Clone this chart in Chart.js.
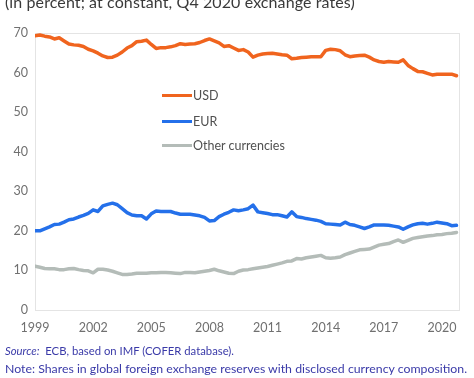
<!DOCTYPE html>
<html>
<head>
<meta charset="utf-8">
<script src="https://cdn.jsdelivr.net/npm/chart.js@4.4.1/dist/chart.umd.min.js"></script>
<style>
  html, body { margin: 0; padding: 0; background: #fff; }
  #wrap { position: relative; width: 474px; height: 378px; overflow: hidden; font-family: Lato, "Open Sans", sans-serif; }
  #c { position: absolute; left: 0; top: 0; }
  .title { position: absolute; left: 5px; top: -8px; font-size: 16px; color: #3a3a3a; white-space: nowrap; letter-spacing: 0.1px; }
  .foot { position: absolute; left: 5px; color: #3a3aa8; white-space: nowrap; }
  .leg { position: absolute; left: 162px; font-size: 12.5px; color: #505050; white-space: nowrap; }
  .leg span { display: inline-block; width: 30px; height: 3px; vertical-align: middle; margin-right: 1px; position: relative; top: -1px; }
</style>
</head>
<body>
<div id="wrap">
  <canvas id="c" width="474" height="378"></canvas>
  <div class="title">(in percent; at constant, Q4 2020 exchange rates)</div>
  <div class="leg" style="top:88px"><span style="background:#f0641e"></span>USD</div>
  <div class="leg" style="top:114px"><span style="background:#2470ea"></span>EUR</div>
  <div class="leg" style="top:138px"><span style="background:#b4bcb8"></span>Other currencies</div>
  <div class="foot" style="top:344px; font-size:11.3px"><i>Source:</i>&nbsp; ECB, based on IMF (COFER database).</div>
  <div class="foot" style="top:361px; font-size:12.3px">Note: Shares in global foreign exchange reserves with disclosed currency composition.</div>
</div>
<script>
const years = [1999,2000,2001,2002,2003,2004,2005,2006,2007,2008,2009,2010,2011,2012,2013,2014,2015,2016,2017,2018,2019,2020];
const xTickYears = [1999,2002,2005,2008,2011,2014,2017,2020];
const yTicks = [0,10,20,30,40,50,60,70];

const usd = [
  69.3,69.5,69.2,69.0, 68.5,68.8,68.0,67.2, 67.0,66.9,66.6,65.9, 65.5,64.9,64.2,63.8,
  63.9,64.4,65.2,66.2, 66.8,67.8,67.9,68.2, 67.1,66.1,66.3,66.3, 66.5,66.8,67.3,67.1,
  67.2,67.3,67.6,68.1, 68.5,68.0,67.5,66.6, 66.8,66.2,65.6,65.8, 65.2,63.9,64.4,64.7,
  64.8,64.9,64.7,64.5, 64.4,63.5,63.6,63.8, 63.9,64.0,64.0,64.0, 65.6,65.9,65.8,65.5,
  64.5,64.0,64.2,64.3, 64.4,63.9,63.2,62.8, 62.6,62.8,62.7,62.6, 63.2,61.8,61.0,60.3,
  60.2,59.8,59.4,59.6, 59.6,59.6,59.6,59.2
];
const eur = [
  20.0,20.0,20.5,21.0, 21.6,21.7,22.2,22.8, 23.0,23.5,23.9,24.4, 25.3,24.9,26.3,26.7,
  27.0,26.6,25.6,24.6, 24.0,23.8,23.8,23.0, 24.3,25.0,24.9,24.9, 24.9,24.5,24.2,24.2,
  24.2,24.0,23.8,23.4, 22.5,22.6,23.6,24.2, 24.7,25.3,25.1,25.3, 25.6,26.5,24.8,24.6,
  24.4,24.1,24.1,23.8, 23.5,24.8,23.6,23.4, 23.1,22.9,22.7,22.4, 21.8,21.7,21.6,21.5,
  22.2,21.6,21.4,21.0, 20.6,21.0,21.5,21.5, 21.5,21.4,21.2,21.0, 20.4,21.0,21.5,21.8,
  21.9,21.7,21.9,22.2, 22.0,21.8,21.3,21.4
];
const other = [
  11.1,10.8,10.5,10.4, 10.4,10.2,10.2,10.4, 10.5,10.2,10.0,9.9, 9.4,10.3,10.3,10.1,
  9.8,9.4,9.0,9.0, 9.1,9.3,9.3,9.3, 9.4,9.4,9.5,9.5, 9.4,9.3,9.2,9.5,
  9.5,9.4,9.6,9.8, 10.0,10.3,9.9,9.6, 9.3,9.2,9.8,10.1, 10.2,10.4,10.6,10.8,
  11.0,11.3,11.6,11.9, 12.3,12.4,13.0,12.9, 13.2,13.4,13.6,13.8, 13.2,13.1,13.2,13.4,
  14.0,14.4,14.8,15.2, 15.3,15.4,15.9,16.4, 16.6,16.8,17.3,17.7, 17.1,17.6,18.1,18.3,
  18.5,18.7,18.8,19.0, 19.1,19.3,19.4,19.6
];

// quarterly time points (year + quarter fraction)
const quarters = [];
years.forEach(y => { for (let q = 0; q < 4; q++) quarters.push(y + q / 4); });
const toPts = arr => arr.map((v, i) => ({ x: quarters[i], y: v }));

const frame = {
  id: 'frame',
  beforeDatasetsDraw(chart) {
    const a = chart.chartArea, ctx = chart.ctx;
    ctx.save();
    ctx.strokeStyle = '#e4e4e4';
    ctx.lineWidth = 1;
    ctx.strokeRect(Math.round(a.left) + 0.5, Math.round(a.top) + 0.5, Math.round(a.right - a.left), Math.round(a.bottom - a.top));
    ctx.restore();
  }
};

new Chart(document.getElementById('c'), {
  type: 'line',
  data: {
    datasets: [
      { label: 'USD', data: toPts(usd), borderColor: '#f0641e', borderWidth: 3.5, pointRadius: 0, tension: 0, borderJoinStyle: 'round', borderCapStyle: 'round' },
      { label: 'EUR', data: toPts(eur), borderColor: '#2470ea', borderWidth: 3.5, pointRadius: 0, tension: 0, borderJoinStyle: 'round', borderCapStyle: 'round' },
      { label: 'Other currencies', data: toPts(other), borderColor: '#b4bcb8', borderWidth: 3.5, pointRadius: 0, tension: 0, borderJoinStyle: 'round', borderCapStyle: 'round' }
    ]
  },
  options: {
    responsive: false,
    animation: false,
    layout: { padding: { top: 33, right: 15, left: 0, bottom: 0 } },
    plugins: { legend: { display: false }, tooltip: { enabled: false }, title: { display: false } },
    scales: {
      x: {
        type: 'linear',
        min: 1999,
        max: 2020.88,
        afterFit(s) { s.height = 68; },
        afterBuildTicks(s) { s.ticks = xTickYears.map(v => ({ value: v })); },
        grid: { display: false, drawTicks: false },
        border: { display: false },
        ticks: { callback: v => String(v), color: '#707070', padding: 10, maxRotation: 0, autoSkip: false, font: { family: 'Lato', size: 12.5 } }
      },
      y: {
        min: 0,
        max: 70,
        afterFit(s) { s.width = 35; },
        afterBuildTicks(s) { s.ticks = yTicks.map(v => ({ value: v })); },
        grid: { display: false, drawTicks: false },
        border: { display: false },
        ticks: { color: '#707070', padding: 7, font: { family: 'Lato', size: 12.5 } }
      }
    }
  },
  plugins: [frame]
});
</script>
</body>
</html>
